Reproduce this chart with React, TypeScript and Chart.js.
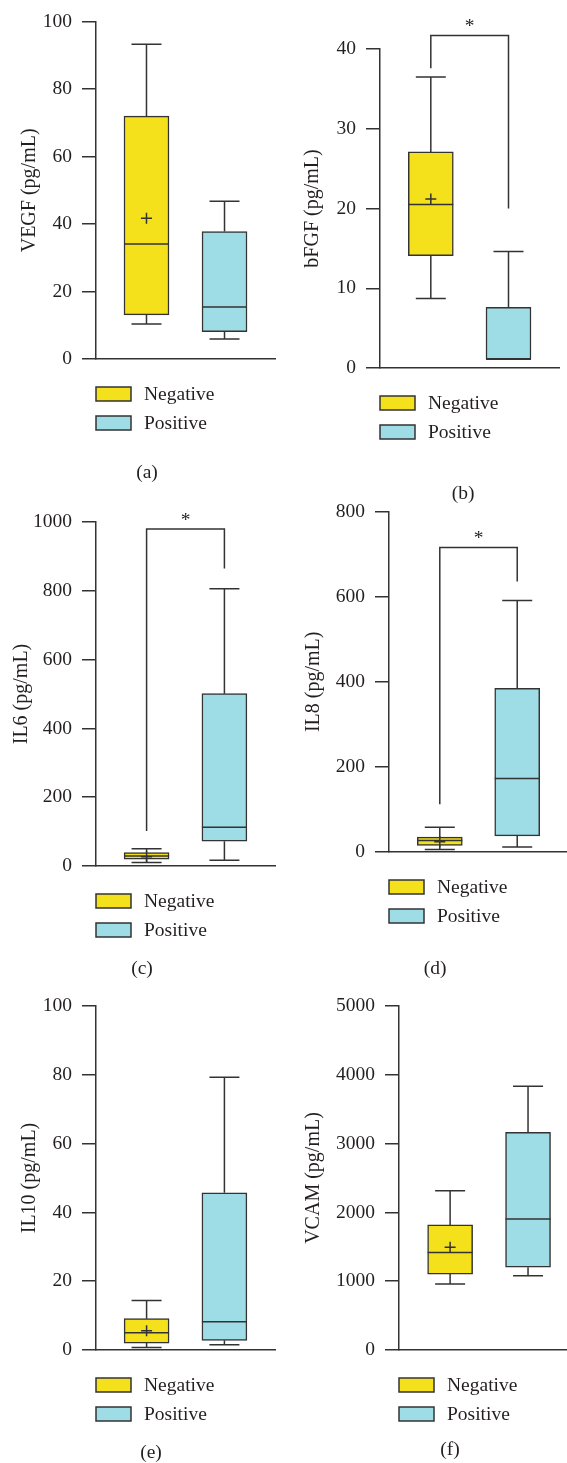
import React, { useEffect, useRef } from 'react';
import { Chart, registerables } from 'chart.js';

Chart.register(...registerables);

// ---------- data ----------
const GROUPS = ['Negative', 'Positive'];
const GROUP_X = [1, 2];
const GROUP_COLORS = ['#F4E11C', '#9EDDE6'];

// five-number summaries: [min, Q1, median, Q3, max]
const VEGF_NEG = [10.4, 13.1, 34.1, 72.0, 93.3];
const VEGF_POS = [5.9, 8.1, 15.4, 37.8, 46.8];
const VEGF_MEAN = [41.7, null];
const VEGF_TICKS = [0, 20, 40, 60, 80, 100];

const BFGF_NEG = [8.7, 14.1, 20.5, 27.1, 36.5];
const BFGF_POS = [1.1, 1.1, 1.1, 7.6, 14.6];
const BFGF_MEAN = [21.2, null];
const BFGF_TICKS = [0, 10, 20, 30, 40];
const BFGF_BRACKET = [41.7, 37.6, 20.0]; // [bar level, left end, right end]

const IL6_NEG = [10, 19.5, 29, 39, 50.5];
const IL6_POS = [16.5, 72, 113, 501, 806];
const IL6_MEAN = [27, null];
const IL6_TICKS = [0, 200, 400, 600, 800, 1000];
const IL6_BRACKET = [980, 102, 865];

const IL8_NEG = [5.6, 15.5, 27, 35, 58];
const IL8_POS = [11.6, 38, 173, 385, 591];
const IL8_MEAN = [24, null];
const IL8_TICKS = [0, 200, 400, 600, 800];
const IL8_BRACKET = [716, 112, 636];

const IL10_NEG = [0.7, 2.0, 5.0, 9.1, 14.4];
const IL10_POS = [1.5, 2.8, 8.2, 45.7, 79.3];
const IL10_MEAN = [5.6, null];
const IL10_TICKS = [0, 20, 40, 60, 80, 100];

const VCAM_NEG = [958, 1103, 1416, 1818, 2316];
const VCAM_POS = [1078, 1204, 1905, 3163, 3835];
const VCAM_MEAN = [1494, null];
const VCAM_TICKS = [0, 1000, 2000, 3000, 4000, 5000];

// ---------- style ----------
const AXIS = '#333333';
const TEXT = '#231f20';
const FONT = "'Liberation Serif', 'Times New Roman', serif";
const TICK_SIZE = 19.5;
const TITLE_SIZE = 20;
const BOX_W = 45;
const CAP_W = 30;
const LW = 1.5;

type Box = { x: number; y: number; w: number; h: number };
type Area = { l: number; t: number; r: number; b: number };
type Panel = {
  title: string;
  label: string;
  stats: number[][];
  means: (number | null)[];
  ticks: number[];
  bracket: number[] | null;
  box: Box;
  area: Area;
  xRange: [number, number];
  titleX: number;
  labelPos: [number, number];
};

const PANELS: Panel[] = [
  {
    title: 'VEGF (pg/mL)', label: '(a)', stats: [VEGF_NEG, VEGF_POS], means: VEGF_MEAN, ticks: VEGF_TICKS, bracket: null,
    box: { x: 0, y: 0, w: 283, h: 505 }, area: { l: 96, t: 15, r: 275, b: 359 }, xRange: [0.353, 2.647], titleX: 30, labelPos: [147, 473],
  },
  {
    title: 'bFGF (pg/mL)', label: '(b)', stats: [BFGF_NEG, BFGF_POS], means: BFGF_MEAN, ticks: BFGF_TICKS, bracket: BFGF_BRACKET,
    box: { x: 283, y: 0, w: 284, h: 505 }, area: { l: 380, t: 49, r: 559, b: 368 }, xRange: [0.346, 2.65], titleX: 30, labelPos: [180, 494],
  },
  {
    title: 'IL6 (pg/mL)', label: '(c)', stats: [IL6_NEG, IL6_POS], means: IL6_MEAN, ticks: IL6_TICKS, bracket: IL6_BRACKET,
    box: { x: 0, y: 490, w: 283, h: 495 }, area: { l: 96, t: 522, r: 275, b: 866 }, xRange: [0.35, 2.65], titleX: 22, labelPos: [142, 479],
  },
  {
    title: 'IL8 (pg/mL)', label: '(d)', stats: [IL8_NEG, IL8_POS], means: IL8_MEAN, ticks: IL8_TICKS, bracket: IL8_BRACKET,
    box: { x: 283, y: 490, w: 284, h: 495 }, area: { l: 389, t: 508, r: 566, b: 852 }, xRange: [0.344, 2.63], titleX: 31, labelPos: [152, 479],
  },
  {
    title: 'IL10 (pg/mL)', label: '(e)', stats: [IL10_NEG, IL10_POS], means: IL10_MEAN, ticks: IL10_TICKS, bracket: null,
    box: { x: 0, y: 975, w: 283, h: 488 }, area: { l: 96, t: 1006, r: 275, b: 1350 }, xRange: [0.35, 2.65], titleX: 30, labelPos: [151, 478],
  },
  {
    title: 'VCAM (pg/mL)', label: '(f)', stats: [VCAM_NEG, VCAM_POS], means: VCAM_MEAN, ticks: VCAM_TICKS, bracket: null,
    box: { x: 283, y: 975, w: 284, h: 488 }, area: { l: 399, t: 1006, r: 567, b: 1350 }, xRange: [0.344, 2.5], titleX: 31, labelPos: [167, 475],
  },
];

function makePlugin(panel: Panel) {
  return {
    id: 'boxExtras',
    afterDatasetsDraw(chart: any) {
      const { ctx } = chart;
      const x = chart.scales.x;
      const y = chart.scales.y;
      ctx.save();
      ctx.strokeStyle = AXIS;
      ctx.lineWidth = LW;
      panel.stats.forEach((s, i) => {
        const cx = x.getPixelForValue(GROUP_X[i]);
        const [mn, q1, md, q3, mx] = s.map((v) => y.getPixelForValue(v));
        ctx.beginPath();
        if (q3 - mx > 0.5) {
          ctx.moveTo(cx, q3);
          ctx.lineTo(cx, mx);
          ctx.moveTo(cx - CAP_W / 2, mx);
          ctx.lineTo(cx + CAP_W / 2, mx);
        }
        if (mn - q1 > 0.5) {
          ctx.moveTo(cx, q1);
          ctx.lineTo(cx, mn);
          ctx.moveTo(cx - CAP_W / 2, mn);
          ctx.lineTo(cx + CAP_W / 2, mn);
        }
        ctx.moveTo(cx - BOX_W / 2, md);
        ctx.lineTo(cx + BOX_W / 2, md);
        ctx.stroke();
        const m = panel.means[i];
        if (m !== null && m !== undefined) {
          const my = y.getPixelForValue(m);
          ctx.beginPath();
          ctx.moveTo(cx - 5.5, my);
          ctx.lineTo(cx + 5.5, my);
          ctx.moveTo(cx, my - 5.5);
          ctx.lineTo(cx, my + 5.5);
          ctx.stroke();
        }
      });
      ctx.restore();
    },
    afterDraw(chart: any) {
      const { ctx, chartArea } = chart;
      const x = chart.scales.x;
      const y = chart.scales.y;
      ctx.save();
      ctx.strokeStyle = AXIS;
      ctx.lineWidth = LW;
      ctx.fillStyle = TEXT;
      ctx.font = `${TICK_SIZE}px ${FONT}`;
      if (panel.bracket) {
        const [lvl, l, r] = panel.bracket;
        const x1 = x.getPixelForValue(GROUP_X[0]);
        const x2 = x.getPixelForValue(GROUP_X[1]);
        const yt = y.getPixelForValue(lvl);
        ctx.beginPath();
        ctx.moveTo(x1, y.getPixelForValue(l));
        ctx.lineTo(x1, yt);
        ctx.lineTo(x2, yt);
        ctx.lineTo(x2, y.getPixelForValue(r));
        ctx.stroke();
        ctx.textAlign = 'center';
        ctx.textBaseline = 'alphabetic';
        ctx.fillText('*', (x1 + x2) / 2, yt - 3);
      }
      // legend
      GROUPS.forEach((g, i) => {
        const top = chartArea.bottom + 28 + i * 29;
        const left = chartArea.left;
        ctx.fillStyle = GROUP_COLORS[i];
        ctx.fillRect(left, top, 35, 14);
        ctx.strokeStyle = AXIS;
        ctx.strokeRect(left, top, 35, 14);
        ctx.fillStyle = TEXT;
        ctx.textAlign = 'left';
        ctx.textBaseline = 'middle';
        ctx.fillText(g, left + 48, top + 8);
      });
      ctx.textAlign = 'center';
      ctx.textBaseline = 'middle';
      ctx.fillText(panel.label, panel.labelPos[0], panel.labelPos[1]);
      ctx.restore();
    },
  };
}

function buildConfig(panel: Panel): any {
  const { box, area, ticks } = panel;
  return {
    type: 'bar',
    data: {
      datasets: GROUPS.map((g, i) => ({
        label: g,
        data: [{ x: GROUP_X[i], y: [panel.stats[i][1], panel.stats[i][3]] }],
        backgroundColor: GROUP_COLORS[i],
        borderColor: AXIS,
        borderWidth: LW,
        borderSkipped: false,
        barThickness: BOX_W,
        grouped: false,
      })),
    },
    options: {
      responsive: false,
      animation: false,
      events: [],
      layout: {
        padding: {
          left: 0,
          top: area.t - box.y,
          right: box.x + box.w - area.r,
          bottom: box.y + box.h - area.b,
        },
      },
      plugins: { legend: { display: false }, tooltip: { enabled: false } },
      scales: {
        x: {
          type: 'linear',
          min: panel.xRange[0],
          max: panel.xRange[1],
          offset: false,
          grid: { display: false, drawTicks: false },
          ticks: { display: false },
          border: { display: true, color: AXIS, width: LW },
          afterFit: (s: any) => {
            s.height = 0;
          },
        },
        y: {
          type: 'linear',
          min: ticks[0],
          max: ticks[ticks.length - 1],
          afterBuildTicks: (s: any) => {
            s.ticks = ticks.map((v) => ({ value: v }));
          },
          afterFit: (s: any) => {
            s.width = area.l - box.x;
          },
          grid: { display: true, drawOnChartArea: false, drawTicks: true, tickLength: 14, color: AXIS, lineWidth: LW },
          border: { display: true, color: AXIS, width: LW },
          ticks: {
            color: TEXT,
            font: { family: FONT, size: TICK_SIZE },
            padding: 10,
            callback: (v: any) => String(v),
          },
          title: {
            display: true,
            text: panel.title,
            color: TEXT,
            font: { family: FONT, size: TITLE_SIZE },
            padding: { top: panel.titleX - TITLE_SIZE * 0.6, bottom: 0 },
          },
        },
      },
    },
    plugins: [makePlugin(panel)],
  };
}

function BoxPanel({ panel }: { panel: Panel }) {
  const ref = useRef<HTMLCanvasElement>(null);
  useEffect(() => {
    if (!ref.current) return;
    const chart = new Chart(ref.current, buildConfig(panel));
    return () => chart.destroy();
  }, [panel]);
  const { box } = panel;
  return (
    <canvas
      ref={ref}
      width={box.w}
      height={box.h}
      style={{ position: 'absolute', left: box.x, top: box.y, width: box.w, height: box.h }}
    />
  );
}

export default function App() {
  return (
    <div style={{ position: 'absolute', left: 0, top: 0, width: 567, height: 1463, background: '#ffffff', overflow: 'hidden' }}>
      {PANELS.map((p) => (
        <BoxPanel key={p.label} panel={p} />
      ))}
    </div>
  );
}
